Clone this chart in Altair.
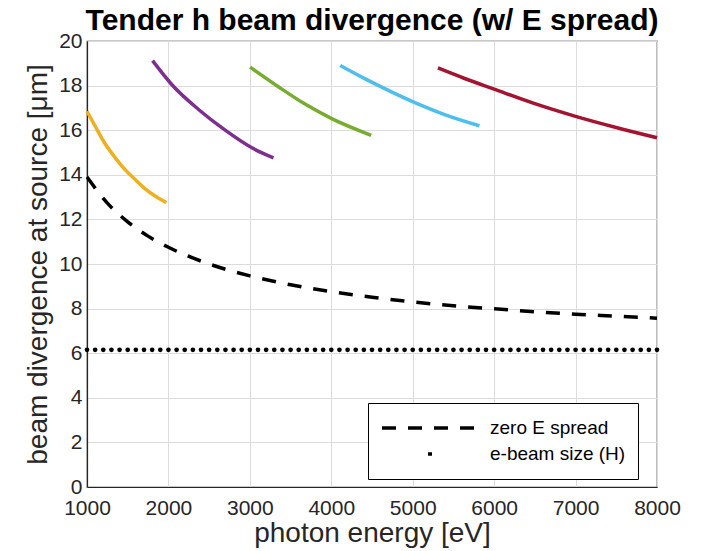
import altair as alt
import pandas as pd

FONT = "Liberation Sans"

# ---- data ----
# harmonic curves (with energy spread)
h1_energy = [1000, 1120, 1225, 1350, 1470, 1600, 1715, 1850, 1975]
h1_div = [16.85, 16.05, 15.38, 14.75, 14.22, 13.76, 13.37, 13.02, 12.76]

h2_energy = [1805, 2043, 2370, 2697, 3025, 3290]
h2_div = [19.12, 18.04, 16.93, 16.00, 15.21, 14.76]

h3_energy = [3003, 3350, 3678, 4005, 4490]
h3_div = [18.83, 17.95, 17.17, 16.52, 15.77]

h4_energy = [4110, 4417, 4745, 5070, 5400, 5820]
h4_div = [18.90, 18.30, 17.71, 17.17, 16.69, 16.20]

h5_energy = [5310, 5630, 6000, 6490, 7000, 7510, 8000]
h5_div = [18.79, 18.33, 17.84, 17.20, 16.62, 16.11, 15.66]

series_names = ["h1", "h2", "h3", "h4", "h5"]
series_colors = ["#EDB120", "#7E2F8E", "#77AC30", "#4DBEEE", "#A2142F"]

# zero energy spread curve
zero_energy = [1000, 1250, 1500, 1750, 2000, 2500, 3000, 3500, 4000, 4500,
               5000, 5500, 6000, 6500, 7000, 7500, 8000]
zero_div = [13.90, 12.73, 11.89, 11.25, 10.75, 10.00, 9.47, 9.07, 8.76, 8.51,
            8.30, 8.13, 7.99, 7.86, 7.75, 7.66, 7.57]

# e-beam size (H): dots every 100 eV
ebeam_energy = list(range(1000, 8001, 100))
ebeam_size = [6.15] * len(ebeam_energy)

legend_labels = ["zero E spread", "e-beam size (H)"]

x_ticks = [1000, 2000, 3000, 4000, 5000, 6000, 7000, 8000]
y_ticks = [0, 2, 4, 6, 8, 10, 12, 14, 16, 18, 20]

# ---- tables ----
rows = []
for name, es, ds in zip(series_names,
                        [h1_energy, h2_energy, h3_energy, h4_energy, h5_energy],
                        [h1_div, h2_div, h3_div, h4_div, h5_div]):
    for e, d in zip(es, ds):
        rows.append({"series": name, "energy": e, "div": d})
harm_df = pd.DataFrame(rows)
zero_df = pd.DataFrame({"energy": zero_energy, "div": zero_div,
                        "label": legend_labels[0]})
ebeam_df = pd.DataFrame({"energy": ebeam_energy, "div": ebeam_size})

x_enc = alt.X("energy:Q",
              scale=alt.Scale(domain=[1000, 8000], nice=False, zero=False),
              axis=alt.Axis(values=x_ticks, format="d",
                            title="photon energy [eV]"))
y_enc = alt.Y("div:Q",
              scale=alt.Scale(domain=[0, 20], nice=False),
              axis=alt.Axis(values=y_ticks, title="beam divergence at source [μm]"))

harm = alt.Chart(harm_df).mark_line(strokeWidth=3.5, interpolate="monotone").encode(
    x=x_enc, y=y_enc,
    color=alt.Color("series:N",
                    scale=alt.Scale(domain=series_names, range=series_colors),
                    legend=None),
)

zero = alt.Chart(zero_df).mark_line(color="black", strokeWidth=3.5,
                                    interpolate="monotone").encode(
    x=x_enc, y=y_enc,
    strokeDash=alt.StrokeDash(
        "label:N",
        scale=alt.Scale(domain=legend_labels, range=[[14, 12], [0, 46, 4, 300]]),
        legend=alt.Legend(title=None, orient="none", legendX=281, legendY=362,
                          symbolType="stroke", symbolSize=9216,
                          symbolStrokeWidth=3.5, symbolStrokeColor="black",
                          labelFontSize=19, labelFont=FONT, labelColor="black",
                          labelOffset=10, clipHeight=26, rowPadding=0,
                          padding=12, strokeColor="black", fillColor="white",
                          cornerRadius=0),
    ),
)

ebeam = alt.Chart(ebeam_df).mark_circle(color="black", size=22, opacity=1).encode(
    x=x_enc, y=y_enc,
)

chart = alt.layer(harm, zero, ebeam).properties(
    width=570, height=446,
    background="white",
    title=alt.TitleParams("Tender h beam divergence (w/ E spread)",
                          fontSize=30, fontWeight="bold", font=FONT,
                          anchor="middle", offset=-6, color="black"),
    autosize=alt.AutoSizeParams(type="none"),
    padding={"left": 87, "top": 41, "right": 45, "bottom": 64},
).configure_view(
    stroke="#262626", strokeWidth=1.2,
).configure_axis(
    labelFont=FONT, titleFont=FONT, labelFontSize=21, titleFontSize=28,
    labelColor="#262626", titleColor="#262626", titleFontWeight="normal",
    domainColor="#262626", domainWidth=1.2,
    gridColor="#dcdcdc", gridWidth=1, ticks=False,
    labelFlush=False, labelOverlap=False,
).configure_axisX(
    labelPadding=10, titlePadding=1,
).configure_axisY(
    labelPadding=5, titlePadding=6,
)

chart.save("out.html", embed_options={"renderer": "svg", "actions": False})
